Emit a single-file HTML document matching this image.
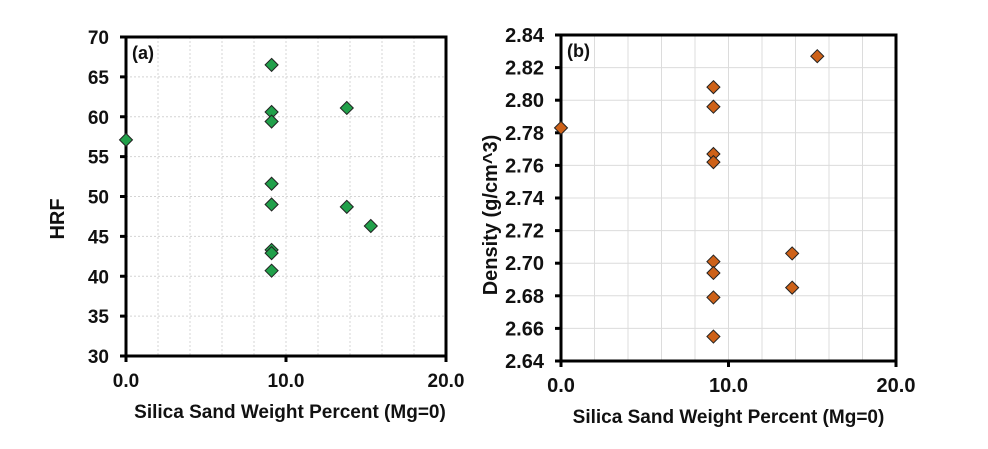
<!DOCTYPE html>
<html><head><meta charset="utf-8">
<style>
body{margin:0;background:#fff;}
svg{display:block;font-family:"Liberation Sans",Arial,sans-serif;font-weight:bold;}
</style></head>
<body>
<svg id="c" width="988" height="449"></svg>
<script>
const xA=[0,9.1,9.1,9.1,9.1,9.1,9.1,9.1,9.1,13.8,13.8,15.3];
const yA=[57.1,66.5,60.6,59.4,51.6,49.0,43.3,42.9,40.7,61.1,48.7,46.3];
const xB=[0,15.3,9.1,9.1,9.1,9.1,9.1,9.1,9.1,9.1,13.8,13.8];
const yB=[2.783,2.827,2.808,2.796,2.767,2.762,2.701,2.694,2.679,2.655,2.706,2.685];
const yTicksA=[30,35,40,45,50,55,60,65,70];
const yTicksB=[2.64,2.66,2.68,2.70,2.72,2.74,2.76,2.78,2.80,2.82,2.84];
const xTicks=[0,10,20];
const NS="http://www.w3.org/2000/svg";
const svg=document.getElementById('c');
function mk(t,a,p){const e=document.createElementNS(NS,t);for(const k in a)e.setAttribute(k,a[k]);(p||svg).appendChild(e);return e;}
function panel(o){
  const g=mk('g',{});
  
  
  const sx=v=>o.x0+(v-0)/(20-0)*(o.x1-o.x0);
  const sy=v=>o.y1-(v-o.ymin)/(o.ymax-o.ymin)*(o.y1-o.y0);
  for(let v=2;v<20;v+=2){const l=mk('line',{x1:sx(v),x2:sx(v),y1:o.y0,y2:o.y1,stroke:o.gc,'stroke-width':1,'stroke-dasharray':o.dash},g);
    }
  o.yt.forEach(v=>{const l=mk('line',{x1:o.x0,x2:o.x1,y1:sy(v),y2:sy(v),stroke:o.gc,'stroke-width':1,'stroke-dasharray':o.dash},g);
    
    const tk=mk('line',{x1:o.x0-6,x2:o.x0,y1:sy(v),y2:sy(v),stroke:'#000','stroke-width':3},g);
    
    const t=mk('text',{x:o.x0-17,y:sy(v)+7,'text-anchor':'end','font-size':o.tfs,fill:'#111'},g);t.textContent=o.fmt(v);
    });
  xTicks.forEach(v=>{
    const tk=mk('line',{x1:sx(v),x2:sx(v),y1:o.y1,y2:o.y1+6,stroke:'#000','stroke-width':3},g);
    
    const t=mk('text',{x:sx(v),y:o.y1+31,'text-anchor':'middle','font-size':o.tfs,fill:'#111'},g);t.textContent=v.toFixed(1);
    });
  const r=mk('rect',{x:o.x0,y:o.y0,width:o.x1-o.x0,height:o.y1-o.y0,fill:'none',stroke:'#000','stroke-width':3},g);
  
  const lb=mk('text',{x:o.x0+6,y:o.y0+22,'font-size':18,fill:'#111'},g);lb.textContent=o.label;
  
  o.xs.forEach((xv,i)=>{const cx=sx(xv),cy=sy(o.ys[i]),s=6.5;
    const p=mk('polygon',{points:`${cx},${cy-s} ${cx+s},${cy} ${cx},${cy+s} ${cx-s},${cy}`,fill:o.col,stroke:'#222','stroke-width':1},g);
    });
  const xt=mk('text',{x:(o.x0+o.x1)/2+o.xtOff,y:o.y1+62,'text-anchor':'middle','font-size':19,fill:'#111'},g);xt.textContent='Silica Sand Weight Percent (Mg=0)';
  
  const yt=mk('text',{x:0,y:0,'text-anchor':'middle','font-size':o.ytfs,fill:'#111',transform:`translate(${o.ytx},${o.yty}) rotate(-90)`},g);yt.textContent=o.ytitle;
  
}
panel({name:'hrf-panel',x0:126,x1:446,y0:37,y1:356,ymin:30,ymax:70,yt:yTicksA,fmt:v=>String(v),gc:'#d4d4d4',dash:'2,2',
  xs:xA,ys:yA,col:'#21a04a',label:'(a)',ytitle:'HRF',ytx:64,yty:219,ytfs:20,tfs:19,xtOff:4});
panel({name:'density-panel',x0:561,x1:896,y0:35,y1:361,ymin:2.64,ymax:2.84,yt:yTicksB,fmt:v=>v.toFixed(2),gc:'#dcdcdc',dash:'none',
  xs:xB,ys:yB,col:'#cd6118',label:'(b)',ytitle:'Density (g/cm^3)',ytx:497,yty:215,ytfs:20,tfs:20,xtOff:0});
</script>
</body></html>
